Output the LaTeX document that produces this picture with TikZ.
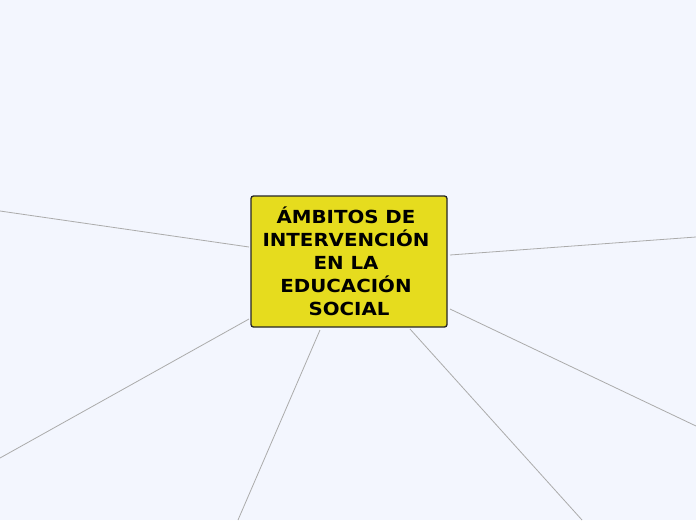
\documentclass[tikz,border=0pt]{standalone}
\usepackage{fontspec}
\setmainfont{DejaVu Sans}[FakeStretch=1.1]
\definecolor{bg}{HTML}{F3F6FE}
\definecolor{topicfill}{HTML}{E6DC1E}
\definecolor{linkgray}{HTML}{ABABAB}
\newcommand{\trail}{\rule{6pt}{0pt}}
\tikzset{
  central/.style={draw=black!85, line width=1.3pt, fill=topicfill, rounded corners=2.5pt,
    minimum width=196pt, minimum height=131pt, inner sep=0pt, align=center,
    font=\fontsize{18}{23}\selectfont\bfseries},
  link/.style={draw=linkgray, line width=0.8pt}
}
\begin{document}
\begin{tikzpicture}[x=1pt,y=-1pt]
\fill[bg] (0,0) rectangle (696,520);
\useasboundingbox (0,0) rectangle (696,520);
\coordinate (e1) at (0,211);
\coordinate (e2) at (696,237);
\coordinate (e3) at (0,458);
\coordinate (e4) at (238,520);
\coordinate (e5) at (582,520);
\coordinate (e6) at (696,426);
\coordinate (s1) at (249,247);
\coordinate (s2) at (450,255);
\coordinate (s3) at (249,319);
\coordinate (s4) at (320,330);
\coordinate (s5) at (410,329);
\coordinate (s6) at (450,309);
\draw[link] (e1) -- (s1);
\draw[link] (s2) -- (e2);
\draw[link] (e3) -- (s3);
\draw[link] (s4) -- (e4);
\draw[link] (s5) -- (e5);
\draw[link] (s6) -- (e6);
\node[central] (c) at (349,261.5) {ÁMBITOS DE\trail\\INTERVENCIÓN\trail\\EN LA\trail\\EDUCACIÓN\trail\\SOCIAL};
\end{tikzpicture}
\end{document}
